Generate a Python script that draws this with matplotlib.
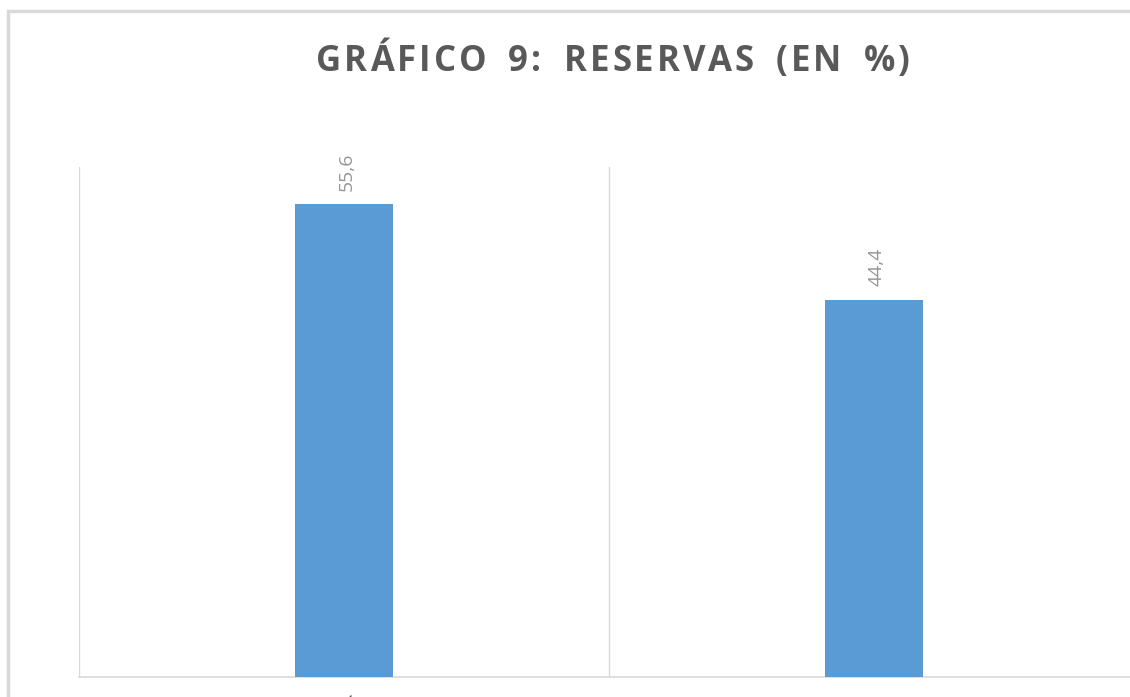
import matplotlib
matplotlib.use("Agg")
import matplotlib.pyplot as plt
from matplotlib.patches import Rectangle

title = "GRÁFICO 9: RESERVAS (EN %)"
categories = ["SÍ", "NO"]
values = [55.6, 44.4]
labels = ["55,6", "44,4"]

W, H = 1130, 697
fig = plt.figure(figsize=(W / 100, H / 100), dpi=100)
fig.patch.set_facecolor("white")

# chart border (cropped at right and bottom)
fig.patches.append(Rectangle((7.5 / W, -0.1), 1.2, (H - 10.5) / H + 0.1,
                             transform=fig.transFigure, fill=False,
                             edgecolor="#d9d9d9", linewidth=2.5))

ax = fig.add_axes([79 / W, 20 / H, 1060 / W, 510 / H])
x = list(range(len(categories)))
bars = ax.bar(x, values, width=0.184, color="#5b9bd5", zorder=3)
ax.set_xlim(-0.5, 1.5)
ax.set_ylim(0, 60)

for b, lab in zip(bars, labels):
    ax.annotate(lab, (b.get_x() + b.get_width() / 2, b.get_height()),
                xytext=(2, 10), textcoords="offset points", rotation=90,
                ha="center", va="bottom", fontsize=14, color="#959595",
                family="Open Sans")

for s in ["top", "left", "right"]:
    ax.spines[s].set_visible(False)
ax.spines["bottom"].set_color("#d9d9d9")
ax.spines["bottom"].set_linewidth(1.2)
ax.set_yticks([])
ax.set_xticks(x)
ax.set_xticklabels(categories, fontsize=14, color="#595959", family="Open Sans")
ax.tick_params(axis="x", length=0, pad=16)
ax.set_xticks([-0.5, 0.5, 1.5], minor=True)
ax.tick_params(axis="x", which="minor", length=0)
ax.grid(True, which="minor", axis="x", color="#d9d9d9", linewidth=1, zorder=0)

# letter-spaced title
tprops = dict(fontsize=25, fontweight="bold", color="#595959", family="Open Sans")
renderer = fig.canvas.get_renderer()


def text_width(s):
    if not s:
        return 0.0
    t = fig.text(0, 0, s + "X", **tprops)
    w = t.get_window_extent(renderer).width
    t.remove()
    t2 = fig.text(0, 0, "X", **tprops)
    w2 = t2.get_window_extent(renderer).width
    t2.remove()
    return w - w2


target_left, target_right = 316, 910
spacing = 3.0
natural = text_width(title)
n_gaps = len(title) - 1
n_spaces = title.count(" ")
extra_space = (target_right - target_left - natural - spacing * n_gaps) / n_spaces
yb = 1 - 71 / H
shift = 0.0
for i, ch in enumerate(title):
    if ch == " ":
        shift += extra_space
        continue
    xpos = target_left + text_width(title[:i]) + spacing * i + shift
    fig.text(xpos / W, yb, ch, ha="left", va="baseline", **tprops)

fig.savefig("out.png", dpi=100)
